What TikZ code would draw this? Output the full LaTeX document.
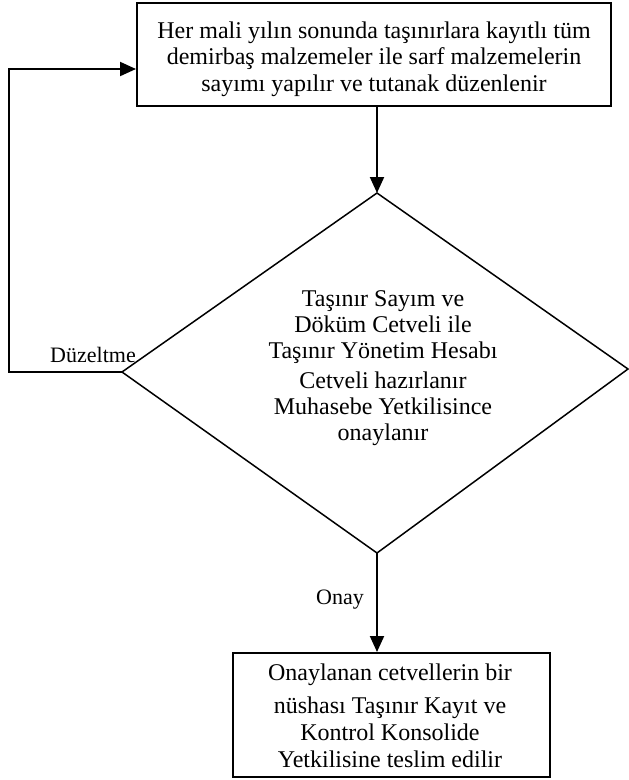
\documentclass[tikz,border=0pt]{standalone}
\usepackage{fontspec}
\setmainfont{Liberation Serif}
\usetikzlibrary{arrows.meta}
\begin{document}
\begin{tikzpicture}[x=1pt,y=-1pt,
  boxnode/.style={draw=black,line width=2pt,inner sep=0pt},
  txt/.style={inner sep=0pt,align=center},
  conn/.style={draw=black,line width=2pt,-{Triangle[length=16pt,width=14pt]}},
  lbl/.style={inner sep=0pt,font=\fontsize{22}{25}\selectfont}]
\useasboundingbox (0,0) rectangle (629,780);
% top box
\node[boxnode,minimum width=474pt,minimum height=103pt] (top) at (374,54.5) {};
\node[txt,font=\fontsize{24}{26.5}\selectfont] (toptext) at (374,59)
  {Her mali yılın sonunda taşınırlara kayıtlı tüm\\demirbaş malzemeler ile sarf malzemelerin\\sayımı yapılır ve tutanak düzenlenir};
% diamond
\coordinate (dT) at (377,193);
\coordinate (dL) at (122,372);
\coordinate (dR) at (628,369);
\coordinate (dB) at (377,553);
\draw[black,line width=1.5pt,line join=miter] (dL) -- (dT) -- (dR) -- (dB) -- cycle;
\node[txt,font=\fontsize{24}{26}\selectfont] (dtext) at (383,368)
  {Taşınır Sayım ve\\Döküm Cetveli ile\\Taşınır Yönetim Hesabı\\[4pt]Cetveli hazırlanır\\Muhasebe Yetkilisince\\onaylanır};
% bottom box
\node[boxnode,minimum width=317pt,minimum height=124pt] (bot) at (391.5,715) {};
\node[txt,font=\fontsize{24}{27}\selectfont] (bottext) at (390,716)
  {Onaylanan cetvellerin bir\\[6pt]nüshası Taşınır Kayıt ve\\Kontrol Konsolide\\Yetkilisine teslim edilir};
% connectors
\draw[conn] (dT |- top.south) -- (dT);
\draw[conn] (dB) -- (dB |- bot.north);
\coordinate (loopA) at (9,372);
\coordinate (loopB) at (9,69);
\draw[conn,line join=miter] (dL) -- (loopA) -- (loopB) -- (loopB -| top.west);
% labels
\node[lbl,anchor=base] (lduz) at (93,362) {Düzeltme};
\node[lbl,anchor=base] (lonay) at (340,604) {Onay};
\end{tikzpicture}
\end{document}
